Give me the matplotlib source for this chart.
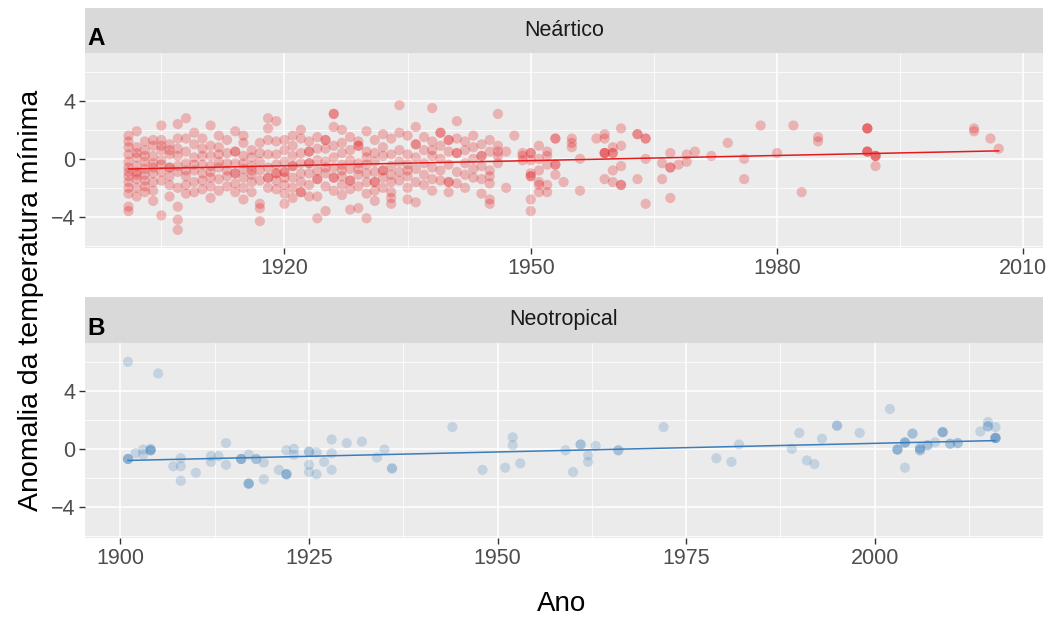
# Recreation of the two-panel (Neártico / Neotropical) temperature anomaly chart
import matplotlib.pyplot as plt
from matplotlib.ticker import FixedLocator

# Neártico: anomaly values per year (one dict per decade)
NEARCTIC_1900S = {
    1901: [1.6, 1.2, 0.8, 0.3, -0.2, -0.6, -0.9, -1.2, -1.6, -2.0, -2.4, -3.3, -3.6],
    1902: [1.9, 0.8, 0.4, 0.1, -0.5, -0.9, -1.1, -1.4, -2.0, -2.6],
    1903: [1.2, 0.6, 0.2, -0.2, -0.7, -1.1, -1.5, -1.9, -2.3],
    1904: [1.3, 0.9, 0.2, -0.3, -0.6, -1.0, -1.6, -2.2, -2.9],
    1905: [2.3, 1.3, 0.9, 0.6, -0.1, -0.4, -0.9, -1.5, -3.9],
    1906: [1.0, 0.6, 0.3, -0.6, -0.6, -1.2, -1.8, -2.6],
    1907: [2.4, 1.4, 0.7, 0.2, -0.5, -0.9, -2.0, -3.3, -4.2, -4.9],
    1908: [2.8, 1.4, 0.5, -0.3, -0.8, -1.2, -1.8, -2.4],
    1909: [1.8, 1.0, 0.1, -0.4, -0.8, -1.6, -2.3],
}
NEARCTIC_1910S = {
    1910: [1.4, 0.7, 0.2, -0.4, -1.0, -1.5, -2.1],
    1911: [2.3, 0.9, 0.2, -0.5, -0.9, -1.3, -1.9, -2.7],
    1912: [1.6, 0.8, 0.3, -0.2, -0.6, -1.4, -2.2],
    1913: [1.3, 0.4, -0.3, -0.8, -1.2, -1.9],
    1914: [1.9, 0.5, 0.5, -0.3, -1.0, -1.0, -1.7, -2.3],
    1915: [1.6, 1.1, 0.2, -0.3, -0.7, -1.3, -2.0, -2.8],
    1916: [0.6, 0.1, -0.5, -0.8, -1.1, -1.6, -2.3],
    1917: [1.1, 0.4, -0.2, -0.8, -1.5, -3.1, -3.4, -4.3],
    1918: [2.8, 2.1, 1.3, 0.3, -0.6, -1.3, -1.3, -2.0],
    1919: [2.6, 1.2, 0.3, -0.4, -1.0, -1.0, -1.5, -2.1],
}
NEARCTIC_1920S = {
    1920: [1.3, 0.6, -0.2, -0.9, -0.9, -1.3, -1.8, -2.4, -3.1],
    1921: [1.6, 0.9, 0.2, -0.5, -0.5, -1.3, -2.0, -2.7],
    1922: [2.0, 1.4, 0.4, -0.3, -1.0, -1.6, -2.3, -2.3],
    1923: [1.2, 0.5, 0.5, -0.3, -0.3, -1.0, -1.8, -2.6],
    1924: [1.5, 0.7, -0.1, -0.8, -1.4, -1.4, -2.6, -4.1],
    1925: [1.3, 1.3, 0.7, -0.2, -0.6, -1.0, -1.9, -3.6],
    1926: [3.1, 3.1, 2.2, 0.9, 0.1, -0.6, -1.3, -1.3, -2.2],
    1927: [2.0, 1.1, 0.4, -0.4, -0.8, -1.2, -1.8, -2.5],
    1928: [1.5, 0.6, -0.1, -0.7, -1.5, -1.5, -2.1, -3.5],
    1929: [1.2, 0.9, 0.9, -0.3, -0.7, -1.1, -1.9, -3.4],
}
NEARCTIC_1930S = {
    1930: [1.9, 0.5, 0.1, -0.4, -1.0, -1.6, -2.4, -4.1],
    1931: [1.3, 0.4, -0.2, -0.9, -1.6, -1.6, -2.2, -2.9],
    1932: [1.7, 0.8, 0.2, -0.8, -0.8, -1.3, -2.0],
    1933: [1.4, 0.3, -0.5, -1.1, -1.6, -2.3, -2.7, -3.1],
    1934: [3.7, 1.8, 0.6, -0.2, -0.9, -1.5],
    1935: [1.6, 0.3, -0.4, -0.8, -1.2, -2.0, -2.8],
    1936: [2.2, 1.0, 1.0, 0.1, -0.7, -1.6, -3.0],
    1937: [1.5, 0.6, -0.3, -1.1, -1.8],
    1938: [3.5, 1.2, 0.6, 0.2, -0.6, -1.4, -2.2],
    1939: [1.8, 1.8, 0.9, 0.0, -0.8, -1.5],
}
NEARCTIC_1940S = {
    1940: [1.3, 1.3, 0.5, -0.4, -1.6, -1.6, -2.3],
    1941: [2.6, 1.4, 0.4, 0.4, -0.9, -1.7],
    1942: [1.2, 0.6, -0.3, -1.1, -2.0],
    1943: [1.6, 0.8, 0.0, -0.7, -1.3],
    1944: [1.0, 0.2, 0.2, -0.5, -1.4, -2.4],
    1945: [1.3, 0.5, -0.8, -1.2, -1.7, -2.8, -3.1],
    1946: [3.1, 0.9, 0.5, 0.2, -0.3],
    1947: [0.5, -2.0],
    1948: [1.6],
    1949: [0.2, 0.4, -0.1],
}
NEARCTIC_LATER = {
    1950: [0.4, 0.4, -0.1, -1.0, -1.2, -1.2, -2.8, -3.6],
    1951: [0.9, 0.0, -0.8, -1.6, -1.8, -2.3],
    1952: [0.5, 0.2, -0.4, -1.8, -2.3],
    1953: [1.4, 1.4, -0.4, -0.4, -1.1],
    1954: [-1.6],
    1955: [1.4, 1.1, 0.8],
    1956: [0.0, -2.2],
    1958: [1.4],
    1959: [1.7, 1.4, 0.4, 0.4, 0.4, -1.4],
    1960: [0.4, 0.4, 0.8, -0.8, -1.6],
    1961: [2.1, 0.9, -0.5, -1.8, -1.8],
    1963: [1.7, 1.7, -1.4],
    1964: [1.4, 1.4, 0.0, -3.1],
    1966: [-0.3, -1.4],
    1967: [0.4, -0.6, -0.6, -2.7],
    1968: [-0.4],
    1969: [0.3, -0.2],
    1970: [0.5],
    1972: [0.2],
    1974: [1.1],
    1976: [0.0, -1.4],
    1978: [2.3],
    1980: [0.4],
    1982: [2.3],
    1983: [-2.3],
    1985: [1.5, 1.2],
    1991: [2.1, 2.1, 2.1, 0.5, 0.5, 0.5],
    1992: [0.2, 0.2, 0.2, -0.5],
    2004: [2.1, 1.9],
    2006: [1.4],
    2007: [0.7],
}

# Neotropical: anomaly values per year
NEOTROPICAL_EARLY = {
    1901: [6.0, -0.7, -0.7, -0.7],
    1902: [-0.3],
    1903: [-0.05, -0.4],
    1904: [-0.1, -0.1, -0.1, 0.0],
    1905: [5.2],
    1907: [-1.2],
    1908: [-0.65, -1.2, -2.2],
    1910: [-1.65],
    1912: [-0.5, -0.9],
    1913: [-0.5],
    1914: [0.4, -1.1],
    1916: [-0.7, -0.7, -0.7],
    1917: [-0.4, -2.4, -2.4, -2.4],
    1918: [-0.7, -0.7],
    1919: [-0.95, -2.1],
    1921: [-1.45],
    1922: [-0.1, -1.75, -1.75, -1.75],
    1923: [0.0, -0.4],
    1925: [-0.2, -0.2, -1.1, -1.6],
    1926: [-0.25, -1.75],
    1927: [-0.9],
    1928: [0.65, -0.3, -1.45],
    1930: [0.4],
    1932: [0.5],
    1934: [-0.6],
    1935: [-0.05],
    1936: [-1.35, -1.35],
}
NEOTROPICAL_LATE = {
    1944: [1.5],
    1948: [-1.45],
    1951: [-1.3],
    1952: [0.8, 0.25],
    1953: [-1.0],
    1959: [-0.1],
    1960: [-1.6],
    1961: [0.3, 0.3],
    1962: [-0.45, -0.9],
    1963: [0.2],
    1966: [-0.1, -0.1],
    1972: [1.5],
    1979: [-0.65],
    1981: [-0.9],
    1982: [0.3],
    1989: [0.0],
    1990: [1.1],
    1991: [-0.8],
    1992: [-1.05],
    1993: [0.7],
    1995: [1.6, 1.6],
    1998: [1.1],
    2002: [2.75],
    2003: [-0.05, -0.05, -0.05],
    2004: [0.4, 0.45, 0.45, -1.3],
    2005: [1.05, 1.05],
    2006: [0.05, 0.05, -0.1, -0.1],
    2007: [0.25, 0.25],
    2008: [0.45],
    2009: [1.15, 1.15, 1.15],
    2010: [0.35, 0.35],
    2011: [0.4, 0.4],
    2014: [1.2],
    2015: [1.85, 1.55, 1.55],
    2016: [1.5, 0.75, 0.75, 0.75, 0.75],
}

# Fitted trend lines (start / end)
NEARCTIC_TREND_YEARS = [1901, 2007]
NEARCTIC_TREND_VALUES = [-0.7, 0.55]
NEOTROPICAL_TREND_YEARS = [1901, 2016]
NEOTROPICAL_TREND_VALUES = [-0.8, 0.57]

NEARCTIC_TICKS = [1920, 1950, 1980, 2010]
NEARCTIC_MINOR = [1905, 1935, 1965, 1995]
NEOTROPICAL_TICKS = [1900, 1925, 1950, 1975, 2000]
NEOTROPICAL_MINOR = [1912.5, 1937.5, 1962.5, 1987.5, 2012.5]
Y_TICKS = [-4, 0, 4]
Y_MINOR = [-6, -2, 2, 6]

RED = '#E41A1C'
BLUE = '#3A7DBA'
plt.rcParams['font.family'] = ['Liberation Sans', 'DejaVu Sans']

W, H = 1056, 619


def flatten(*dicts):
    """Turn year -> values dicts into x / y lists."""
    xs, ys = [], []
    for d in dicts:
        for year, vals in d.items():
            xs.extend([year] * len(vals))
            ys.extend(vals)
    return xs, ys


def px_box(left, top, right, bottom):
    """Convert a pixel box (from top-left) into figure fractions."""
    return [left / W, 1 - bottom / H, (right - left) / W, (bottom - top) / H]


def style_panel(ax, xlim, ticks, minor):
    ax.set_facecolor('#EBEBEB')
    ax.set_xlim(*xlim)
    ax.set_ylim(-6.15, 7.3)
    ax.xaxis.set_major_locator(FixedLocator(ticks))
    ax.xaxis.set_minor_locator(FixedLocator(minor))
    ax.yaxis.set_major_locator(FixedLocator(Y_TICKS))
    ax.yaxis.set_minor_locator(FixedLocator(Y_MINOR))
    ax.grid(which='major', color='white', linewidth=1.1)
    ax.grid(which='minor', color='white', linewidth=0.55)
    ax.set_axisbelow(True)
    for sp in ax.spines.values():
        sp.set_visible(False)
    ax.tick_params(which='major', length=4, width=1, color='#333333',
                   labelsize=15.5, labelcolor='#4D4D4D', pad=3)
    ax.tick_params(which='minor', length=0)


def add_strip(fig, box, label, letter):
    sax = fig.add_axes(box)
    sax.set_facecolor('#D9D9D9')
    sax.set_xticks([])
    sax.set_yticks([])
    for sp in sax.spines.values():
        sp.set_visible(False)
    sax.text(0.5, 0.5, label, ha='center', va='center', fontsize=15.5, color='#1A1A1A',
             transform=sax.transAxes)
    sax.text(0.003, 0.06, letter, ha='left', va='bottom', fontsize=17.5, fontweight='bold',
             color='black', transform=sax.transAxes)


def main():
    fig = plt.figure(figsize=(W / 100, H / 100), dpi=100)

    # Top panel: Neártico
    ax1 = fig.add_axes(px_box(85, 53, 1043, 248))
    style_panel(ax1, (1895.7, 2012.4), NEARCTIC_TICKS, NEARCTIC_MINOR)
    x, y = flatten(NEARCTIC_1900S, NEARCTIC_1910S, NEARCTIC_1920S, NEARCTIC_1930S,
                   NEARCTIC_1940S, NEARCTIC_LATER)
    ax1.scatter(x, y, s=54, color=RED, alpha=0.27, edgecolors='none')
    ax1.plot(NEARCTIC_TREND_YEARS, NEARCTIC_TREND_VALUES, color=RED, linewidth=1.1)
    add_strip(fig, px_box(85, 8, 1043, 53), 'Neártico', 'A')

    # Bottom panel: Neotropical
    ax2 = fig.add_axes(px_box(85, 343, 1043, 538))
    style_panel(ax2, (1895.3, 2022.3), NEOTROPICAL_TICKS, NEOTROPICAL_MINOR)
    x, y = flatten(NEOTROPICAL_EARLY, NEOTROPICAL_LATE)
    ax2.scatter(x, y, s=54, color=BLUE, alpha=0.22, edgecolors='none')
    ax2.plot(NEOTROPICAL_TREND_YEARS, NEOTROPICAL_TREND_VALUES, color=BLUE, linewidth=1.1)
    add_strip(fig, px_box(85, 297, 1043, 343), 'Neotropical', 'B')

    fig.text(31 / W, 1 - 300 / H, 'Anomalia da temperatura mínima', rotation=90,
             ha='center', va='center', fontsize=20.5, color='black')
    fig.text(562 / W, 1 - 604 / H, 'Ano', ha='center', va='center', fontsize=20,
             color='black')

    fig.savefig('out.png', dpi=100)


if __name__ == '__main__':
    main()
